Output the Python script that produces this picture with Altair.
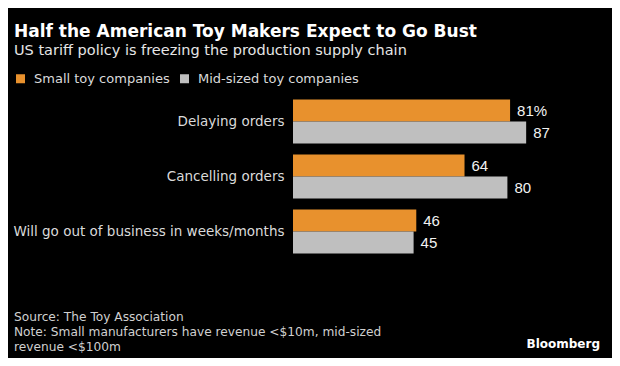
import altair as alt
import pandas as pd

categories = ["Delaying orders", "Cancelling orders", "Will go out of business in weeks/months"]
series = ["Small toy companies", "Mid-sized toy companies"]
small_values = [81, 64, 46]
mid_values = [87, 80, 45]
small_labels = ["81%", "64", "46"]
mid_labels = ["87", "80", "45"]
colors = ["#E8912D", "#BFBFBF"]

title = "Half the American Toy Makers Expect to Go Bust"
subtitle = "US tariff policy is freezing the production supply chain"
footer = [
    "Source: The Toy Association",
    "Note: Small manufacturers have revenue <$10m, mid-sized",
    "revenue <$100m",
]
brand = "Bloomberg"

rows = []
for c, s, m, sl, ml in zip(categories, small_values, mid_values, small_labels, mid_labels):
    rows.append({"category": c, "series": series[0], "value": s, "label": sl})
    rows.append({"category": c, "series": series[1], "value": m, "label": ml})
df = pd.DataFrame(rows)

FONT = "DejaVu Sans"

y = alt.Y(
    "category:N",
    sort=categories,
    scale=alt.Scale(paddingInner=0.2, paddingOuter=0.1),
    axis=alt.Axis(
        title=None, ticks=False, domain=False, labelFont=FONT, labelFontSize=13.5,
        labelColor="#DADADA", labelPadding=9, labelLimit=400,
    ),
)
yoff = alt.YOffset("series:N", sort=series, scale=alt.Scale(paddingInner=0, paddingOuter=0))
x = alt.X("value:Q", scale=alt.Scale(domain=[0, 100]), axis=None)

bars = alt.Chart(df).mark_bar().encode(
    y=y,
    yOffset=yoff,
    x=x,
    color=alt.Color(
        "series:N",
        sort=series,
        scale=alt.Scale(domain=series, range=colors),
        legend=alt.Legend(
            title=None, orient="none", legendX=-279, legendY=-22, direction="horizontal",
            symbolType="square", symbolSize=81, symbolStrokeWidth=0, labelFont=FONT,
            labelFontSize=13, labelColor="#DADADA", labelOffset=7, columnPadding=8,
            labelLimit=400,
        ),
    ),
)

labels = alt.Chart(df).mark_text(
    align="left", baseline="middle", dx=7, font="Liberation Sans", fontSize=15, color="#F2F2F2"
).encode(y=y, yOffset=yoff, x=x, text="label:N")


def text_layer(txt, xv, yv, size, weight="normal", color="#FFFFFF", align="left"):
    return alt.Chart(pd.DataFrame({"t": [txt]})).mark_text(
        align=align, baseline="alphabetic", font=FONT, fontSize=size, fontWeight=weight, color=color
    ).encode(x=alt.value(xv), y=alt.value(yv), text="t:N")


layers = [
    bars,
    labels,
    text_layer(title, -279, -57, 17, "bold"),
    text_layer(subtitle, -279, -39, 14.5, color="#E6E6E6"),
    text_layer(footer[0], -279, 227, 12.2, color="#D0D0D0"),
    text_layer(footer[1], -279, 242, 12.2, color="#D0D0D0"),
    text_layer(footer[2], -279, 257, 12.2, color="#D0D0D0"),
    text_layer(brand, 307, 254, 12, "bold", align="right"),
]

chart = alt.layer(*layers).properties(
    width=268,
    height=165,
    padding={"left": 285, "top": 86, "right": 51, "bottom": 99},
    autosize="none",
    background="#000000",
).configure_view(stroke=None)

chart.save("out.html", embed_options={"renderer": "svg", "actions": False})
